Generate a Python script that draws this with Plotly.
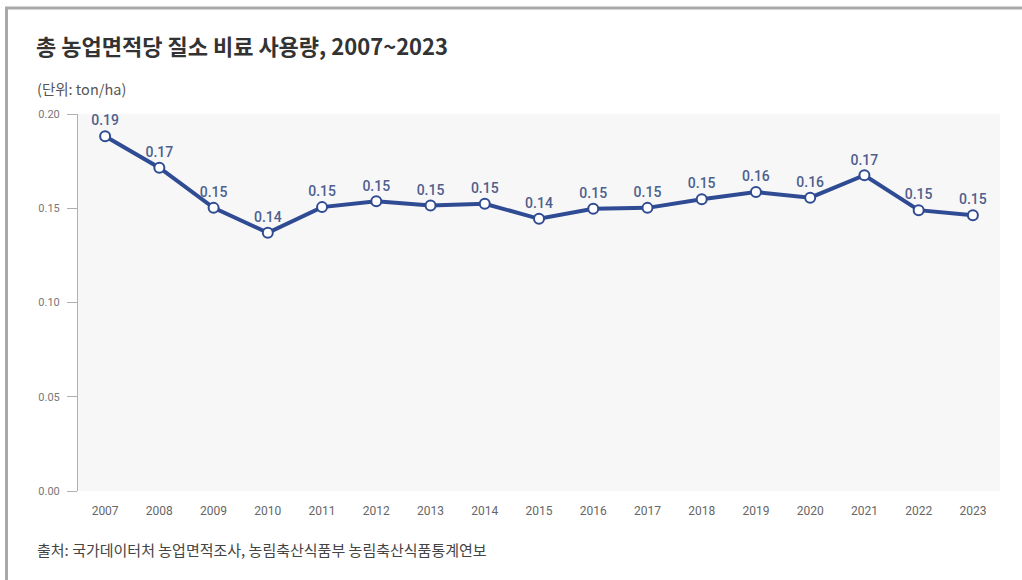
import plotly.graph_objects as go

# Nitrogen fertilizer use per total farmland area (ton/ha)
years = ["2007", "2008", "2009", "2010", "2011", "2012", "2013", "2014", "2015",
         "2016", "2017", "2018", "2019", "2020", "2021", "2022", "2023"]
usage = [0.1882, 0.1715, 0.1502, 0.1370, 0.1506, 0.1537, 0.1515, 0.1524, 0.1444,
         0.1497, 0.1502, 0.1548, 0.1586, 0.1556, 0.1675, 0.1490, 0.1463]
y_ticks = [0.00, 0.05, 0.10, 0.15, 0.20]

title_text = "총 농업면적당 질소 비료 사용량, 2007~2023"
unit_text = "(단위: ton/ha)"
source_text = "출처: 국가데이터처 농업면적조사, 농림축산식품부 농림축산식품통계연보"

W, H = 1022, 580
ML, MR, MT, MB = 78, 22, 114, 89
PW, PH = W - ML - MR, H - MT - MB

KR_FONT = "Noto Sans CJK KR, Noto Sans, sans-serif"
NUM_FONT = "Roboto, sans-serif"
LINE_BLUE = "#2f4b93"


def px_x(px):
    return (px - ML) / PW


def px_y(py):
    return (H - MB - py) / PH


fig = go.Figure()
fig.add_trace(go.Scatter(
    x=years, y=usage,
    mode="lines+markers+text",
    line=dict(color=LINE_BLUE, width=4),
    marker=dict(size=10, color="white", line=dict(color=LINE_BLUE, width=2)),
    text=usage,
    texttemplate="%{y:.2f}",
    textposition="top center",
    textfont=dict(family=NUM_FONT, size=14, color="#4e5f8e", weight=500),
    hoverinfo="skip",
    cliponaxis=False,
))

border = dict(color="#a9a9a9", width=3)
fig.add_shape(type="line", xref="paper", yref="paper",
              x0=px_x(5), x1=px_x(W), y0=px_y(8), y1=px_y(8), line=border)
fig.add_shape(type="line", xref="paper", yref="paper",
              x0=px_x(6.5), x1=px_x(6.5), y0=px_y(8), y1=px_y(H + 5), line=border)

fig.add_annotation(text=unit_text, xref="paper", yref="paper",
                   x=px_x(35), y=px_y(88), xanchor="left", yanchor="middle",
                   showarrow=False, font=dict(family=KR_FONT, size=14.5, color="#555555"))
fig.add_annotation(text=source_text, xref="paper", yref="paper",
                   x=px_x(35), y=px_y(549), xanchor="left", yanchor="middle",
                   showarrow=False, font=dict(family=KR_FONT, size=15, color="#444444"))

fig.update_layout(
    width=W, height=H,
    margin=dict(l=ML, r=MR, t=MT, b=MB),
    paper_bgcolor="white",
    plot_bgcolor="#f7f7f7",
    showlegend=False,
    title=dict(text="<b>" + title_text + "</b>", x=36 / W, y=1 - 47 / H,
               xanchor="left", yanchor="middle", xref="container", yref="container",
               font=dict(family=KR_FONT, size=22, color="#333333")),
    xaxis=dict(
        type="category", range=[-0.5, len(years) - 0.5],
        showgrid=False, showline=False, zeroline=False, ticks="",
        tickfont=dict(family=NUM_FONT, size=12, color="#666666"),
        ticklabelstandoff=11, fixedrange=True,
    ),
    yaxis=dict(
        range=[0, 0.2], tickvals=y_ticks, tickformat=".2f",
        showgrid=False, zeroline=False,
        showline=True, linecolor="#b0b0b0", linewidth=1,
        ticks="outside", ticklen=10, tickcolor="#b0b0b0",
        tickfont=dict(family=NUM_FONT, size=11, color="#777777"),
        ticklabelstandoff=5, fixedrange=True,
    ),
)

fig.write_html("out.html")
